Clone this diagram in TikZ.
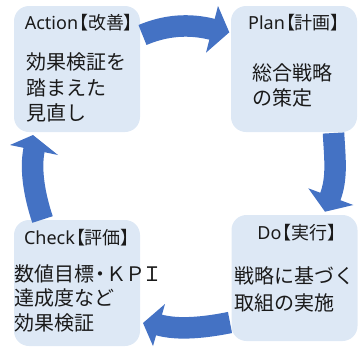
\documentclass[tikz,border=0pt]{standalone}
\usepackage{fontspec}
\setmainfont{Noto Sans CJK JP}
\newfontfamily\latinfam{Noto Sans}
\newfontfamily\cjkprop[RawFeature=+palt]{Noto Sans CJK JP}
\definecolor{boxfill}{HTML}{DDE8F5}
\definecolor{arrowblue}{HTML}{4472C4}
\definecolor{ink}{HTML}{1A1A1A}
\tikzset{
  phasebox/.style={fill=boxfill, draw=none, rounded corners=15pt, minimum width=126pt, minimum height=126pt, inner sep=0pt, outer sep=0pt},
  ttl/.style={font=\fontsize{18}{20}\selectfont, text=ink, anchor=base, inner sep=0pt},
  bodyline/.style={font=\fontsize{20}{24}\selectfont, text=ink, anchor=base west, inner sep=0pt},
  band/.style={draw=arrowblue, line width=21.5pt},
  head/.style={fill=arrowblue},
}
\begin{document}
\begin{tikzpicture}[x=1pt,y=-1pt]
\useasboundingbox (0,0) rectangle (359,346);

% boxes
\node[phasebox] (action) at (77,69) {};
\node[phasebox] (plan) at (294,69) {};
\node[phasebox] (check) at (77,283) {};
\node[phasebox] (do) at (294.5,278) {};

% titles
\node[ttl] (actiont) at (79,29) {{\latinfam Action}\kern1pt{\cjkprop【改善】}};
\node[ttl] (plant) at (294,29.5) {{\latinfam Plan}\kern1pt{\cjkprop【計画】}};
\node[ttl] (checkt) at (77,244) {{\latinfam Check}\kern1pt{\cjkprop【評価】}};
\node[ttl] (dot) at (297,239) {{\latinfam Do}\kern1pt{\cjkprop【実行】}};

% body text
\node[bodyline] (a1) at (26,69.6) {効果検証を};
\node[bodyline] (a2) at (26,95.6) {踏まえた};
\node[bodyline] (a3) at (26,120.6) {見直し};

\node[bodyline] (p1) at (252,80.6) {総合戦略};
\node[bodyline] (p2) at (252,105.6) {の策定};

\node[bodyline] (c1) at (14,281.6) {数値目標\kern-4pt・\kern-4ptＫ\kern-0.5ptＰ\kern-3.5ptＩ};
\node[bodyline] (c2) at (14,305.6) {達成度など};
\node[bodyline] (c3) at (14,330.1) {効果検証};

\node[bodyline] (d1) at (234,283.4) {戦略に基づく};
\node[bodyline] (d2) at (234,310.1) {取組の実施};

% arrow: Action -> Plan (top)
\coordinate (t1s) at (142.5,35);
\coordinate (t1e) at (213,29.5);
\draw[band] (t1s) .. controls (165.5,25.3) and (188.8,23.3) .. (t1e);
\fill[head] (218,6) -- (229.3,32.3) -- (206,52.7) -- cycle;

% arrow: Plan -> Do (right)
\coordinate (t2s) at (333.5,133);
\coordinate (t2e) at (330,197.5);
\draw[band] (t2s) .. controls (334.8,158) and (337.6,177.8) .. (t2e);
\fill[head] (308.3,188.3) -- (325,211.7) -- (353.3,205) -- cycle;

% arrow: Do -> Check (bottom)
\coordinate (t3s) at (230,322.5);
\coordinate (t3e) at (158,324.7);
\draw[band] (t3s) .. controls (205.5,327.4) and (178.2,330.5) .. (t3e);
\fill[head] (165,304) -- (143,323) -- (153,346) -- cycle;

% arrow: Check -> Action (left)
\coordinate (t4s) at (42.5,219.5);
\coordinate (t4e) at (34.2,149);
\draw[band] (t4s) .. controls (34.6,195.8) and (29.9,169.6) .. (t4e);
\fill[head] (10,145) -- (33,135) -- (58,155) -- cycle;
\end{tikzpicture}
\end{document}
